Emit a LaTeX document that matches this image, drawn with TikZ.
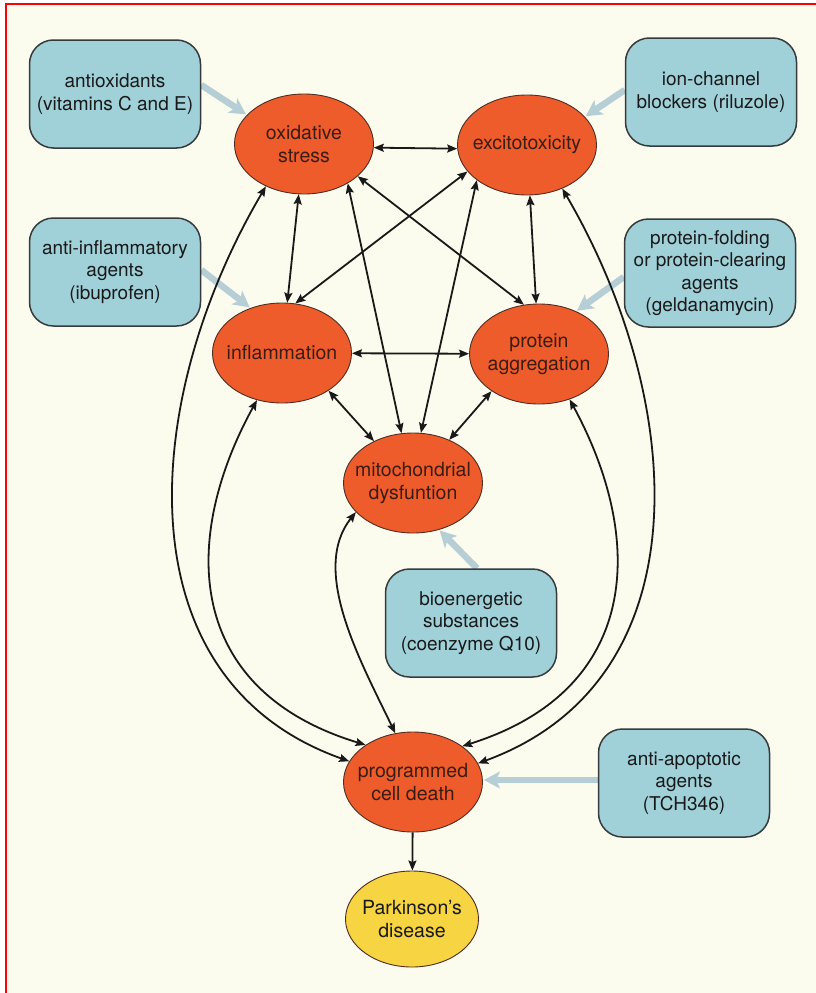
\documentclass[tikz,border=0pt]{standalone}
\usepackage{fontspec}
\setmainfont{TeX Gyre Heros}
\usetikzlibrary{shapes.geometric,arrows.meta}
\definecolor{bgc}{RGB}{252,252,238}
\definecolor{ellfill}{RGB}{238,92,44}
\definecolor{pdfill}{RGB}{246,212,66}
\definecolor{boxfill}{RGB}{160,208,216}
\definecolor{boxedge}{RGB}{55,58,60}
\definecolor{drugc}{RGB}{182,206,213}
\definecolor{ink}{RGB}{25,25,25}
\definecolor{etxt}{RGB}{60,28,18}
\definecolor{edgec}{RGB}{80,44,34}
\pgfdeclarelayer{bglayer}
\pgfsetlayers{bglayer,main}
\tikzset{
  ell/.style={ellipse, draw=edgec, line width=0.9pt, fill=ellfill,
    minimum width=139pt, minimum height=100pt, inner sep=0pt},
  etext/.style={text=etxt, align=center, font=\fontsize{19.5}{22.5}\selectfont},
  drugbox/.style={rounded corners=24pt, draw=boxedge, line width=1.5pt, fill=boxfill,
    minimum width=171pt, minimum height=108pt, align=center, text=ink,
    font=\fontsize{19}{22.5}\selectfont, inner sep=0pt},
  link/.style={draw=ink, line width=1.8pt,
    {Stealth[length=10pt,width=8pt,inset=1.5pt]}-{Stealth[length=10pt,width=8pt,inset=1.5pt]}},
  onelink/.style={draw=ink, line width=1.8pt, -{Stealth[length=10pt,width=8pt,inset=1.5pt]}},
  drug/.style={draw=drugc, line width=6.5pt, -{Stealth[length=16pt,width=17pt,inset=4pt]}, shorten >=1pt}
}
\begin{document}
\begin{tikzpicture}[x=1pt,y=-1pt]
\useasboundingbox (0,0) rectangle (816,993);
\begin{pgfonlayer}{bglayer}
  \fill[white] (0,0) rectangle (816,993);
  \fill[bgc] (5,4) rectangle (816,993);
\end{pgfonlayer}

% disease-process ellipses
\node[ell, label={[etext]center:oxidative\\stress}] (os) at (304,144) {};
\node[ell, label={[etext]center:excitotoxicity}] (xc) at (527,145) {};
\node[ell, label={[etext]center:inflammation}] (inf) at (282,353) {};
\node[ell, label={[etext]center:protein\\aggregation}] (pa) at (539,354) {};
\node[ell, label={[etext]center:mitochondrial\\dysfuntion}] (md) at (413,483) {};
\node[ell, label={[etext]center:programmed\\cell death}] (pcd) at (413,782) {};
\node[ell, fill=pdfill, minimum width=133pt, minimum height=96pt,
  label={[etext, text=ink]center:Parkinson's\\disease}] (pd) at (412,919) {};

% treatment boxes
\node[drugbox] (ao) at (115,94) {antioxidants\\(vitamins C and E)};
\node[drugbox] (ic) at (711,92) {ion-channel\\blockers (riluzole)};
\node[drugbox] (ai) at (115,272) {anti-inflammatory\\agents\\(ibuprofen)};
\node[drugbox] (pf) at (710,273) {protein-folding\\or protein-clearing\\agents\\(geldanamycin)};
\node[drugbox] (be) at (471,623) {bioenergetic\\substances\\(coenzyme Q10)};
\node[drugbox] (aa) at (684,783) {anti-apoptotic\\agents\\(TCH346)};

% treatment arrows
\begin{pgfonlayer}{bglayer}
  \draw[drug] ([yshift=9pt]ao.east) -- (os.153);
  \draw[drug] ([yshift=2pt]ic.west) -- (xc.26);
  \draw[drug] ([yshift=2pt]ai.east) -- (inf.125);
  \draw[drug] ([yshift=-4pt]pf.west) -- (pa.49);
  \draw[drug] ([xshift=6pt]be.north) -- (md.299);
  \draw[drug] ([yshift=3pt]aa.west) -- ([yshift=2pt]pcd.east);
\end{pgfonlayer}

% straight interactions
\draw[link] (os.-3) -- (xc.183);
\draw[link] (os) -- (inf);
\draw[link] (xc) -- (pa);
\draw[link] (xc.204) -- (inf.75);
\draw[link] (os.329) -- (pa.107);
\draw[link] (os.318) -- (md.103);
\draw[link] (xc.215) -- (md.81);
\draw[link] (inf) -- (pa);
\draw[link] (inf.321) -- (md.133);
\draw[link] (pa.218) -- (md.50);

% curved interactions to programmed cell death
\draw[link] (os.228) .. controls (140,400) and (120,680) .. (pcd.162);
\draw[link] (inf.242) .. controls (180,540) and (185,690) .. (pcd.142);
\draw[link] (md.207) .. controls (310,570) and (360,660) .. (pcd.110);
\draw[link] (xc.309) .. controls (686,400) and (706,680) .. (pcd.16);
\draw[link] (pa.304) .. controls (646,540) and (641,690) .. (pcd.36);

\draw[onelink] (pcd) -- (pd);

% page edge
\draw[red, line width=2pt] (5.5,993) -- (5.5,3.5) -- (816,3.5);
\end{tikzpicture}
\end{document}
